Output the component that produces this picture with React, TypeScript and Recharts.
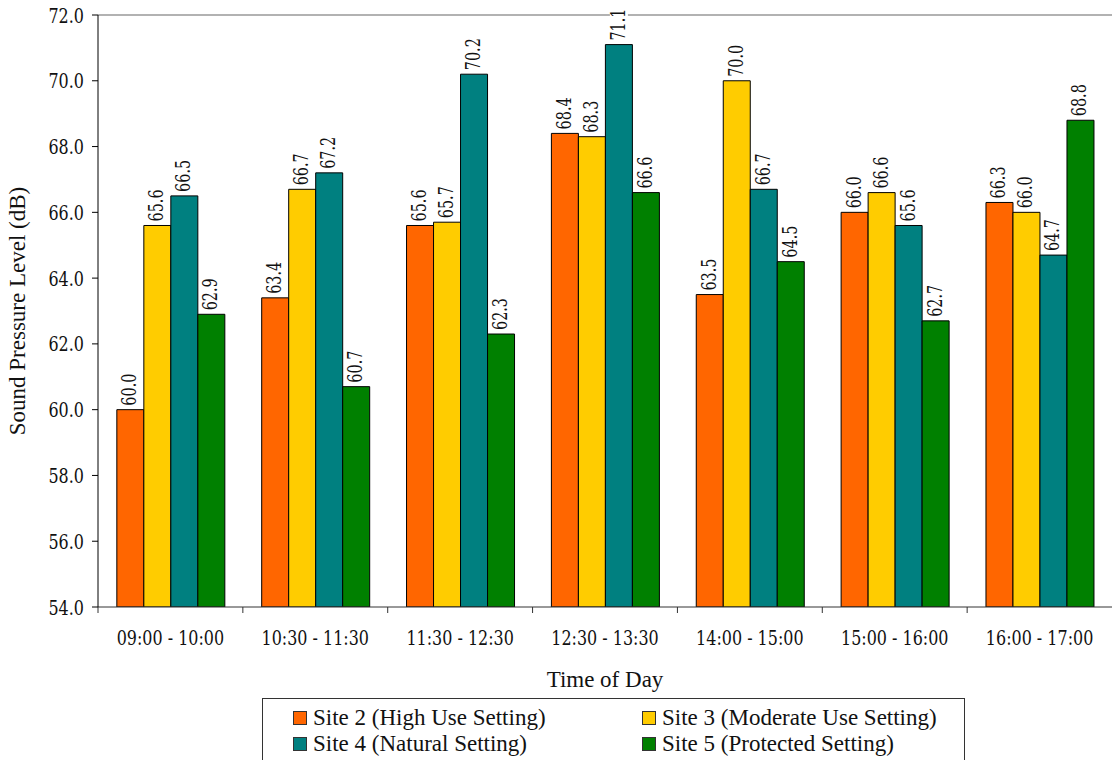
import { BarChart, Bar, XAxis, YAxis, ReferenceLine, LabelList } from 'recharts';

const periods = ['09:00 - 10:00', '10:30 - 11:30', '11:30 - 12:30', '12:30 - 13:30', '14:00 - 15:00', '15:00 - 16:00', '16:00 - 17:00'];
const site2 = [60.0, 63.4, 65.6, 68.4, 63.5, 66.0, 66.3];
const site3 = [65.6, 66.7, 65.7, 68.3, 70.0, 66.6, 66.0];
const site4 = [66.5, 67.2, 70.2, 71.1, 66.7, 65.6, 64.7];
const site5 = [62.9, 60.7, 62.3, 66.6, 64.5, 62.7, 68.8];
const yTicks = [54, 56, 58, 60, 62, 64, 66, 68, 70, 72];

const seriesNames = ['Site 2 (High Use Setting)', 'Site 3 (Moderate Use Setting)', 'Site 4 (Natural Setting)', 'Site 5 (Protected Setting)'];
const COLORS = ['#ff6600', '#ffcc00', '#008080', '#008000'];

const data = periods.map((p, i) => ({ period: p, s2: site2[i], s3: site3[i], s4: site4[i], s5: site5[i] }));
const keys = ['s2', 's3', 's4', 's5'];

const W = 1112;
const H = 760;
const Y_AXIS_W = 98;
const HALF_BAND = (W - Y_AXIS_W) / periods.length / 2;
const SERIF = '"Liberation Serif", "Times New Roman", serif';
const TICK_FONT = '"DejaVu Serif", serif';

// condensed look: scale text horizontally
const YTick = (props: any) => {
  const { x, y, payload } = props;
  return (
    <g>
      <line x1={x - 6} y1={y} x2={x} y2={y} stroke="#000" />
      <text
        transform={`translate(${x - 14},${y}) scale(0.76,1)`}
        dy="0.36em"
        textAnchor="end"
        fontFamily={TICK_FONT}
        fontSize={21}
        fill="#111"
      >
        {Number(payload.value).toFixed(1)}
      </text>
    </g>
  );
};

const XTick = (props: any) => {
  const { x, y, payload } = props;
  return (
    <g>
      <line x1={x - HALF_BAND} y1={y} x2={x - HALF_BAND} y2={y + 6} stroke="#333" />
      <text
        transform={`translate(${x},${y + 30}) scale(0.76,1)`}
        dy="0.36em"
        textAnchor="middle"
        fontFamily={TICK_FONT}
        fontSize={21}
        fill="#111"
      >
        {payload.value}
      </text>
    </g>
  );
};

const ValueLabel = (props: any) => {
  const { x, y, width, value } = props;
  const cx = x + width / 2 + 7;
  const txt = Number(value).toFixed(1);
  const len = 2.227 * 20 * 0.72;
  return (
    <g transform={`translate(${cx},${y - 4}) rotate(-90)`}>
      <rect x={-1} y={-16} width={len + 3} height={18} fill="#fff" />
      <text
        transform="scale(0.72,1)"
        x={0}
        y={-1}
        textAnchor="start"
        fontFamily={TICK_FONT}
        fontSize={20}
        fill="#111"
      >
        {txt}
      </text>
    </g>
  );
};

export default function App() {
  return (
    <div style={{ position: 'absolute', left: 0, top: 0, width: W, height: H, background: '#fff', overflow: 'hidden' }}>
      <BarChart
        width={W}
        height={H}
        data={data}
        margin={{ top: 15, right: 0, left: 0, bottom: 103 }}
        barCategoryGap="13%"
        barGap={0}
      >
        <ReferenceLine y={72} stroke="#999" strokeWidth={1.5} />
        <XAxis
          dataKey="period"
          height={50}
          tickSize={0}
          tickMargin={0}
          tickLine={false}
          axisLine={{ stroke: '#333' }}
          tick={<XTick />}
          interval={0}
        />
        <YAxis
          width={Y_AXIS_W}
          domain={[54, 72]}
          ticks={yTicks}
          allowDataOverflow
          tickSize={0}
          tickMargin={0}
          tickLine={false}
          axisLine={{ stroke: '#000' }}
          tick={<YTick />}
        />
        {keys.map((k, i) => (
          <Bar key={k} dataKey={k} name={seriesNames[i]} fill={COLORS[i]} stroke="#000" strokeWidth={1} isAnimationActive={false}>
            <LabelList dataKey={k} content={<ValueLabel />} />
          </Bar>
        ))}
      </BarChart>

      <div
        style={{
          position: 'absolute',
          left: 18,
          top: 311,
          transform: 'translate(-50%, -50%) rotate(-90deg)',
          fontFamily: SERIF,
          fontSize: 23,
          whiteSpace: 'nowrap',
          color: '#111',
        }}
      >
        Sound Pressure Level (dB)
      </div>
      <div
        style={{
          position: 'absolute',
          left: 605,
          top: 680,
          transform: 'translate(-50%, -50%)',
          fontFamily: SERIF,
          fontSize: 23,
          whiteSpace: 'nowrap',
          color: '#111',
        }}
      >
        Time of Day
      </div>

      <div
        style={{
          position: 'absolute',
          left: 262,
          top: 698,
          width: 703,
          height: 80,
          border: '1px solid #333',
          boxSizing: 'border-box',
        }}
      >
        {seriesNames.map((n, i) => (
          <div
            key={n}
            style={{
              position: 'absolute',
              left: i % 2 === 0 ? 30 : 379,
              top: i < 2 ? 6 : 32,
              display: 'flex',
              alignItems: 'center',
              fontFamily: SERIF,
              fontSize: 23,
              lineHeight: '26px',
              whiteSpace: 'nowrap',
              color: '#111',
            }}
          >
            <span
              style={{
                display: 'inline-block',
                width: 12,
                height: 12,
                background: COLORS[i],
                border: '1px solid #333',
                marginRight: 6,
              }}
            />
            {n}
          </div>
        ))}
      </div>
    </div>
  );
}
